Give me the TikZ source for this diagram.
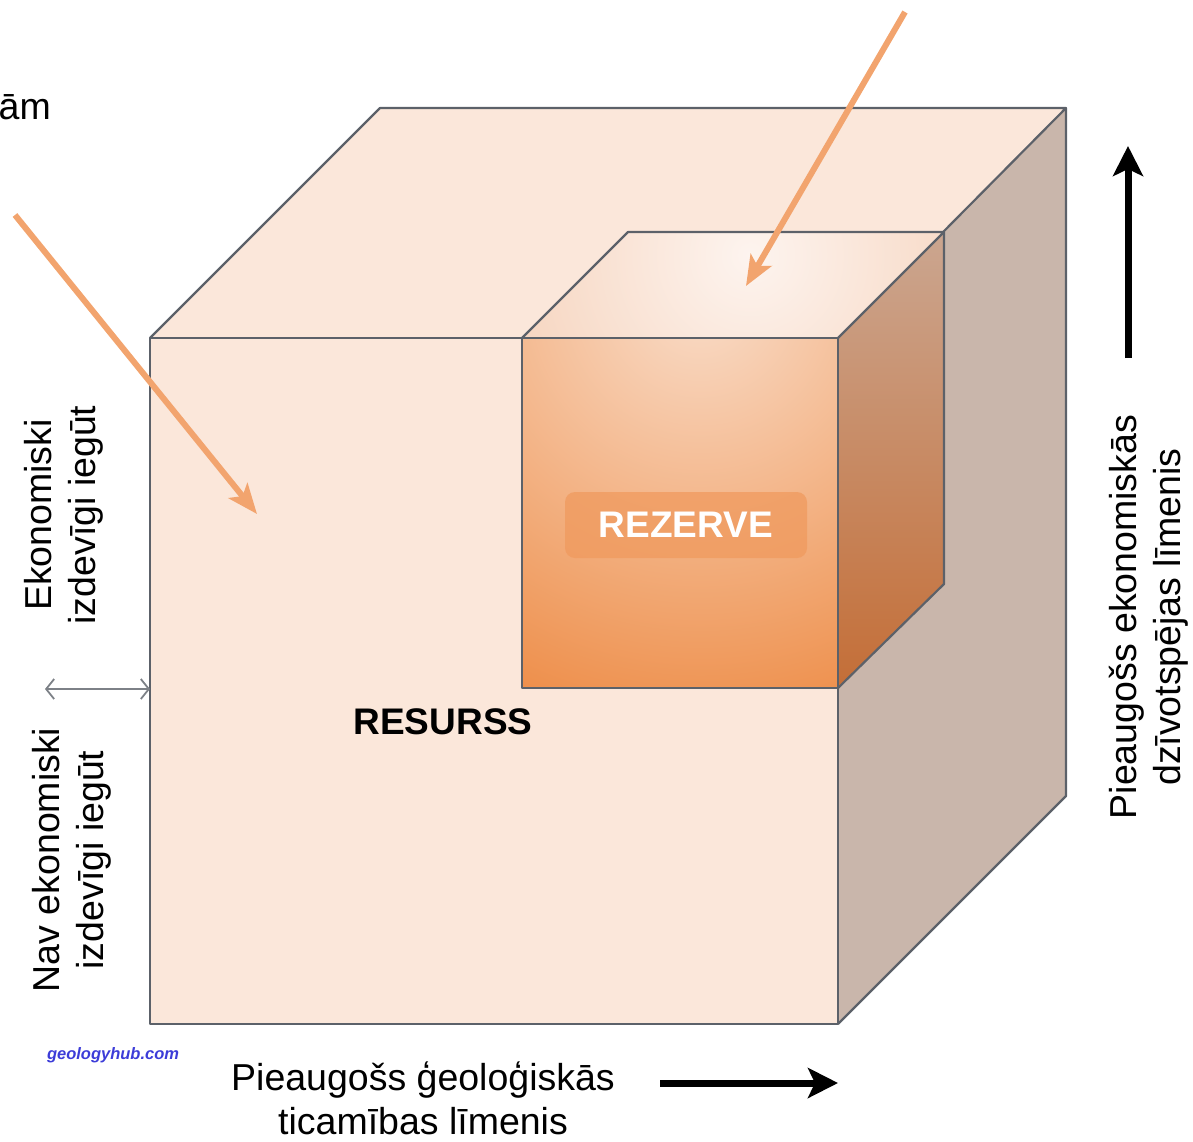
\documentclass[tikz,border=0pt]{standalone}
\usepackage{fontspec}
\setmainfont{Liberation Sans}
\usetikzlibrary{arrows.meta}
\definecolor{peach}{HTML}{FBE7DA}
\definecolor{sidegrey}{HTML}{C9B6AB}
\definecolor{edge}{HTML}{5C6169}
\definecolor{oarrow}{HTML}{F2A46E}
\definecolor{orangeD}{HTML}{EC8236}
\definecolor{orangeL}{HTML}{F9DCC8}
\definecolor{topL}{HTML}{FDF4EF}
\definecolor{topD}{HTML}{F5CFB6}
\definecolor{rsideT}{HTML}{CBA690}
\definecolor{rsideB}{HTML}{C46E37}
\definecolor{rezbox}{HTML}{F09A5E}
\definecolor{logoblue}{HTML}{3C3CD8}
\tikzset{
  face/.style={draw=edge, line width=2.2pt, line join=round},
  lbl/.style={font=\fontsize{37.5}{44}\selectfont, align=center, inner sep=0pt},
  pointer/.style={draw=oarrow, line width=6pt, -{Stealth[length=30pt,width=24pt,inset=7pt]}},
  axisarrow/.style={draw=black, line width=7pt, -{Stealth[length=30pt,width=30pt,inset=7pt]}},
  splitarrow/.style={draw=edge!80, line width=1.8pt, {Straight Barb[length=8pt,width=20pt]}-{Straight Barb[length=8pt,width=20pt]}}
}
\begin{document}
\begin{tikzpicture}[x=1pt,y=-1pt]
\useasboundingbox (0,0) rectangle (1193,1141);
% big cube
\fill[peach] (150,338) rectangle (838,1024);
\fill[peach] (150,338) -- (380,108) -- (1066,108) -- (838,338) -- cycle;
\fill[sidegrey] (838,338) -- (1066,108) -- (1066,796) -- (838,1024) -- cycle;
\draw[face] (150,338) rectangle (838,1024);
\draw[face] (150,338) -- (380,108) -- (1066,108) -- (838,338);
\draw[face] (1066,108) -- (1066,796) -- (838,1024);
% small cube: front face
\begin{scope}
  \clip (522,338) rectangle (838,688);
  \fill[orangeD] (522,338) rectangle (838,688);
  \shade[inner color=orangeL, outer color=orangeD] (700,300) circle (500);
\end{scope}
% small cube: top face
\begin{scope}
  \clip (522,338) -- (628,232) -- (944,232) -- (838,338) -- cycle;
  \fill[topD] (522,232) rectangle (944,338);
  \shade[inner color=topL, outer color=topD] (750,255) circle (300);
\end{scope}
% small cube: right face
\shade[top color=rsideT, bottom color=rsideB] (838,338) -- (944,232) -- (944,584) -- (838,688) -- cycle;
\draw[face] (522,338) rectangle (838,688);
\draw[face] (522,338) -- (628,232) -- (944,232) -- (838,338);
\draw[face] (944,232) -- (944,584) -- (838,688);
% labels on cubes
\node[fill=rezbox, fill opacity=0.75, text opacity=1, rounded corners=10pt, minimum width=242pt, minimum height=66pt, text=white, font=\fontsize{37}{44}\bfseries\selectfont] (rez) at (686,525) {REZERVE};
\node[font=\fontsize{37}{44}\bfseries\selectfont] (res) at (443,722) {RESURSS};
% side labels
\node[lbl, rotate=90] (econ) at (64,515) {Ekonomiski\\izdevīgi iegūt};
\node[lbl, rotate=90] (nonecon) at (72,860) {Nav ekonomiski\\izdevīgi iegūt};
\node[lbl, rotate=90] (ylab) at (1149,617) {Pieaugošs ekonomiskās\\dzīvotspējas līmenis};
\node[lbl] (xlab) at (423,1098) {Pieaugošs ģeoloģiskās\\ticamības līmenis};
\node[font=\fontsize{37.5}{44}\selectfont, anchor=base east, inner sep=0pt] (cut) at (51,119) {ām};
\node[font=\fontsize{16.5}{18}\bfseries\itshape\selectfont, text=logoblue] (logo) at (113,1055) {geologyhub.com};
% axis arrows
\coordinate (ya) at (1128,358);
\coordinate (yb) at (1128,146);
\draw[axisarrow] (ya) -- (yb);
\coordinate (xa) at (660,1083);
\coordinate (xb) at (838,1083);
\draw[axisarrow] (xa) -- (xb);
% split arrow
\coordinate (sa) at (45,689);
\coordinate (sb) at (150,689);
\draw[splitarrow] (sa) -- (sb);
% pointers
\coordinate (p1a) at (15,215);
\coordinate (p1b) at (257,514);
\draw[pointer] (p1a) -- (p1b);
\coordinate (p2a) at (905,12);
\coordinate (p2b) at (746,286);
\draw[pointer] (p2a) -- (p2b);
\end{tikzpicture}
\end{document}
